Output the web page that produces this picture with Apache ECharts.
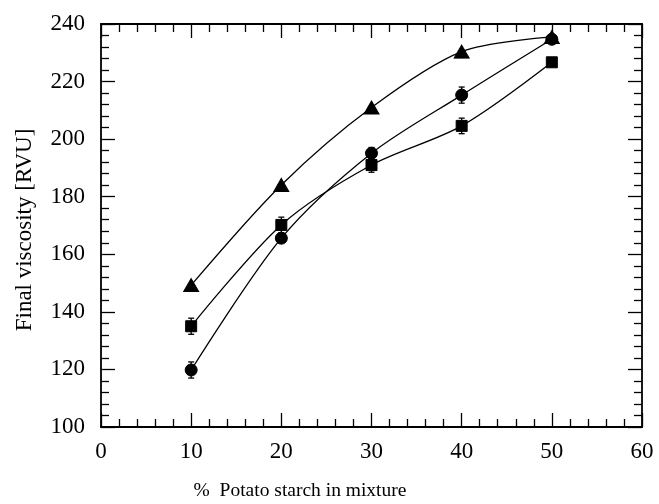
<!DOCTYPE html>
<html>
<head>
<meta charset="utf-8">
<script src="https://cdn.jsdelivr.net/npm/echarts@6/dist/echarts.min.js"></script>
<style>
  html, body { margin: 0; padding: 0; background: #fff; }
  #chart { width: 659px; height: 504px; }
</style>
</head>
<body>
<div id="chart"></div>
<script>
// Potato starch share in the mixture (%)
const potatoShare = [10, 20, 30, 40, 50];

// Final viscosity (RVU) for the three blends
const triangleValues = [149.3, 184.1, 211.0, 230.4, 235.5];
const squareValues   = [135.0, 170.2, 191.0, 204.6, 226.7];
const circleValues   = [119.8, 165.6, 195.1, 215.3, 234.7];

// Standard deviations (RVU)
const squareErr = [2.8, 2.7, 2.5, 2.7, 0];
const circleErr = [2.8, 1.5, 2.0, 2.8, 0.8];

// Axis tick values
const xTicks = [0, 10, 20, 30, 40, 50, 60];
const yTicks = [100, 120, 140, 160, 180, 200, 220, 240];

// Axis titles
const xTitle = '%  Potato starch in mixture';
const yTitle = 'Final viscosity [RVU]';

const FONT = '"Liberation Serif", "Times New Roman", serif';

function pairs(values) {
  return potatoShare.map((x, i) => [x, values[i]]);
}
function errData(values, errs) {
  return potatoShare.map((x, i) => [x, values[i] - errs[i], values[i] + errs[i]]);
}

function errorBarSeries(values, errs) {
  return {
    type: 'custom',
    z: 3,
    data: errData(values, errs),
    renderItem: function (params, api) {
      const x = api.value(0);
      const lo = api.coord([x, api.value(1)]);
      const hi = api.coord([x, api.value(2)]);
      const cap = 3;
      const style = { stroke: '#000', lineWidth: 1.3 };
      return {
        type: 'group',
        children: [
          { type: 'line', shape: { x1: lo[0], y1: lo[1], x2: hi[0], y2: hi[1] }, style },
          { type: 'line', shape: { x1: lo[0] - cap, y1: lo[1], x2: lo[0] + cap, y2: lo[1] }, style },
          { type: 'line', shape: { x1: hi[0] - cap, y1: hi[1], x2: hi[0] + cap, y2: hi[1] }, style }
        ]
      };
    }
  };
}

function curveSeries(values, symbol, size) {
  return {
    type: 'line',
    z: 4,
    data: pairs(values),
    smooth: 0.3,
    symbol: symbol,
    symbolSize: size,
    showAllSymbol: true,
    lineStyle: { color: '#000', width: 1.3 },
    itemStyle: { color: '#000', borderColor: '#000' },
    emphasis: { disabled: true }
  };
}

const xMin = xTicks[0], xMax = xTicks[xTicks.length - 1];
const yMin = yTicks[0], yMax = yTicks[yTicks.length - 1];

const axisLine = { show: true, onZero: false, lineStyle: { color: '#000', width: 1.8 } };
const tickCommon = { show: true, inside: true, length: 14, lineStyle: { color: '#000', width: 1.3 } };
const minorCommon = { show: true, splitNumber: 5, length: 8, lineStyle: { color: '#000', width: 1.3 } };

const chart = echarts.init(document.getElementById('chart'), null, { renderer: 'canvas' });
chart.setOption({
  animation: false,
  backgroundColor: '#fff',
  grid: { left: 101, right: 17, top: 24, bottom: 77 },
  xAxis: [
    {
      type: 'value', min: xMin, max: xMax, interval: 10, position: 'bottom',
      axisLine, axisTick: tickCommon, minorTick: minorCommon, splitLine: { show: false },
      axisLabel: { color: '#000', fontFamily: FONT, fontSize: 23, margin: 13 }
    },
    {
      type: 'value', min: xMin, max: xMax, interval: 10, position: 'top',
      axisLine, axisTick: tickCommon, minorTick: minorCommon, splitLine: { show: false },
      axisLabel: { show: false }
    }
  ],
  yAxis: [
    {
      type: 'value', min: yMin, max: yMax, interval: 20, position: 'left',
      axisLine, axisTick: tickCommon, minorTick: minorCommon, splitLine: { show: false },
      axisLabel: { color: '#000', fontFamily: FONT, fontSize: 23, margin: 16 }
    },
    {
      type: 'value', min: yMin, max: yMax, interval: 20, position: 'right',
      axisLine, axisTick: tickCommon, minorTick: minorCommon, splitLine: { show: false },
      axisLabel: { show: false }
    }
  ],
  graphic: [
    {
      type: 'text', x: 300, y: 491,
      style: { text: xTitle, fill: '#000', font: '19.5px ' + FONT, textAlign: 'center', textVerticalAlign: 'middle' }
    },
    {
      type: 'text', x: 25, y: 230, rotation: Math.PI / 2,
      style: { text: yTitle, fill: '#000', font: '23px ' + FONT, textAlign: 'center', textVerticalAlign: 'middle' }
    }
  ],
  series: [
    errorBarSeries(squareValues, squareErr),
    errorBarSeries(circleValues, circleErr),
    curveSeries(triangleValues, 'triangle', [15, 13]),
    curveSeries(squareValues, 'rect', 11),
    curveSeries(circleValues, 'circle', 12)
  ]
});
</script>
</body>
</html>
